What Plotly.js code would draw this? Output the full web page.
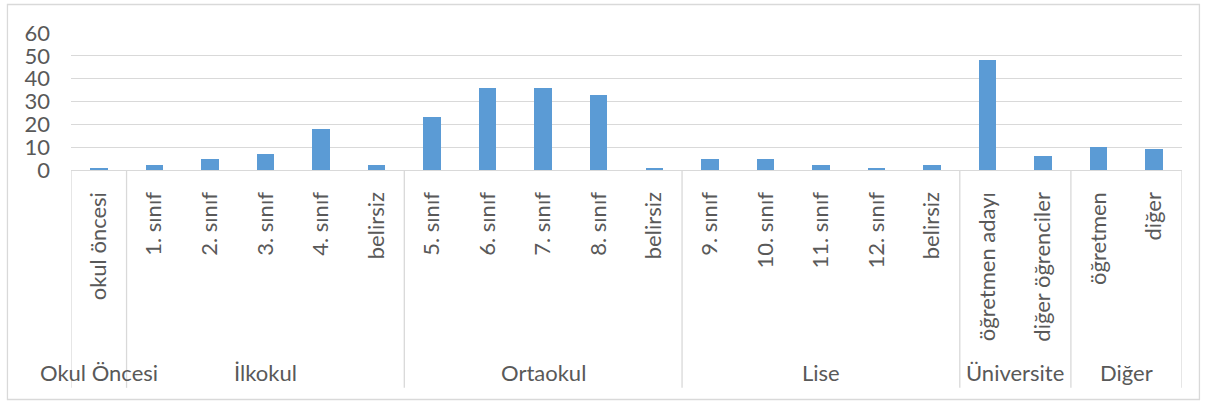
<!DOCTYPE html>
<html>
<head>
<meta charset="utf-8">
<script src="https://cdn.plot.ly/plotly-3.0.1.min.js"></script>
<style>
  html, body { margin: 0; padding: 0; background: #ffffff; }
  #chart { width: 1208px; height: 403px; }
</style>
</head>
<body>
<div id="chart"></div>
<script>
// Sub-categories (lower axis level), in drawing order
const categories = [
  "okul öncesi",
  "1. sınıf", "2. sınıf", "3. sınıf", "4. sınıf", "belirsiz",
  "5. sınıf", "6. sınıf", "7. sınıf", "8. sınıf", "belirsiz",
  "9. sınıf", "10. sınıf", "11. sınıf", "12. sınıf", "belirsiz",
  "öğretmen adayı", "diğer öğrenciler",
  "öğretmen", "diğer"
];

// Counts per sub-category
const values = [1, 2, 5, 7, 18, 2, 23, 36, 36, 33, 1, 5, 5, 2, 1, 2, 48, 6, 10, 9];

// Upper axis level: group names and how many sub-categories each spans
const groupNames = ["Okul Öncesi", "İlkokul", "Ortaokul", "Lise", "Üniversite", "Diğer"];
const groupSizes = [1, 5, 5, 5, 2, 2];

const yTicks = [0, 10, 20, 30, 40, 50, 60];

// Unique x keys so repeated labels ("belirsiz") stay separate bars
const xKeys = categories.map((c, i) => i);

const textColor = "#595959";
const lineColor = "#d9d9d9";
const fontFamily = "Lato, 'Open Sans', sans-serif";
const fontSize = 22;

// Group boundaries and centres in category-index units
const shapes = [];
const annotations = [];
let start = 0;
const lineBottom = -1.59;   // paper units below the x axis
shapes.push({
  type: "line", xref: "x", yref: "paper",
  x0: -0.5, x1: -0.5, y0: 0, y1: lineBottom,
  line: { color: lineColor, width: 1.3 }
});
groupNames.forEach((name, g) => {
  const end = start + groupSizes[g];
  shapes.push({
    type: "line", xref: "x", yref: "paper",
    x0: end - 0.5, x1: end - 0.5, y0: 0, y1: lineBottom,
    line: { color: lineColor, width: 1.3 }
  });
  annotations.push({
    xref: "x", yref: "paper",
    x: (start + end - 1) / 2, y: -1.475,
    text: name, showarrow: false,
    xanchor: "center", yanchor: "middle",
    font: { family: fontFamily, size: fontSize, color: textColor }
  });
  start = end;
});

// Outer chart frame
shapes.push({
  type: "rect", xref: "paper", yref: "paper",
  x0: -0.0572, x1: 1.0157, y0: -1.675, y1: 1.208,
  line: { color: lineColor, width: 1.3 },
  fillcolor: "rgba(0,0,0,0)", layer: "below"
});

const trace = {
  type: "bar",
  x: xKeys,
  y: values,
  width: 0.315,
  marker: { color: "#5b9bd5", line: { width: 0 } },
  hoverinfo: "skip"
};

const layout = {
  width: 1208,
  height: 403,
  margin: { l: 71, r: 26, t: 33, b: 233 },
  paper_bgcolor: "#ffffff",
  plot_bgcolor: "#ffffff",
  showlegend: false,
  bargap: 0,
  xaxis: {
    type: "linear",
    range: [-0.5, categories.length - 0.5],
    tickmode: "array",
    tickvals: xKeys,
    ticktext: categories,
    tickangle: -90,
    ticks: "",
    ticklabelstandoff: 12,
    showgrid: false,
    zeroline: false,
    showline: true,
    linecolor: lineColor,
    linewidth: 1.3,
    tickfont: { family: fontFamily, size: fontSize, color: textColor },
    fixedrange: true
  },
  yaxis: {
    range: [0, 60],
    tickmode: "array",
    tickvals: yTicks,
    ticktext: yTicks.map(String),
    showgrid: true,
    gridcolor: lineColor,
    gridwidth: 1.3,
    zeroline: false,
    showline: false,
    ticks: "",
    ticklabelstandoff: 20,
    tickfont: { family: fontFamily, size: fontSize, color: textColor },
    fixedrange: true
  },
  shapes: shapes,
  annotations: annotations
};

Plotly.newPlot("chart", [trace], layout, { displayModeBar: false, staticPlot: true });
</script>
</body>
</html>
